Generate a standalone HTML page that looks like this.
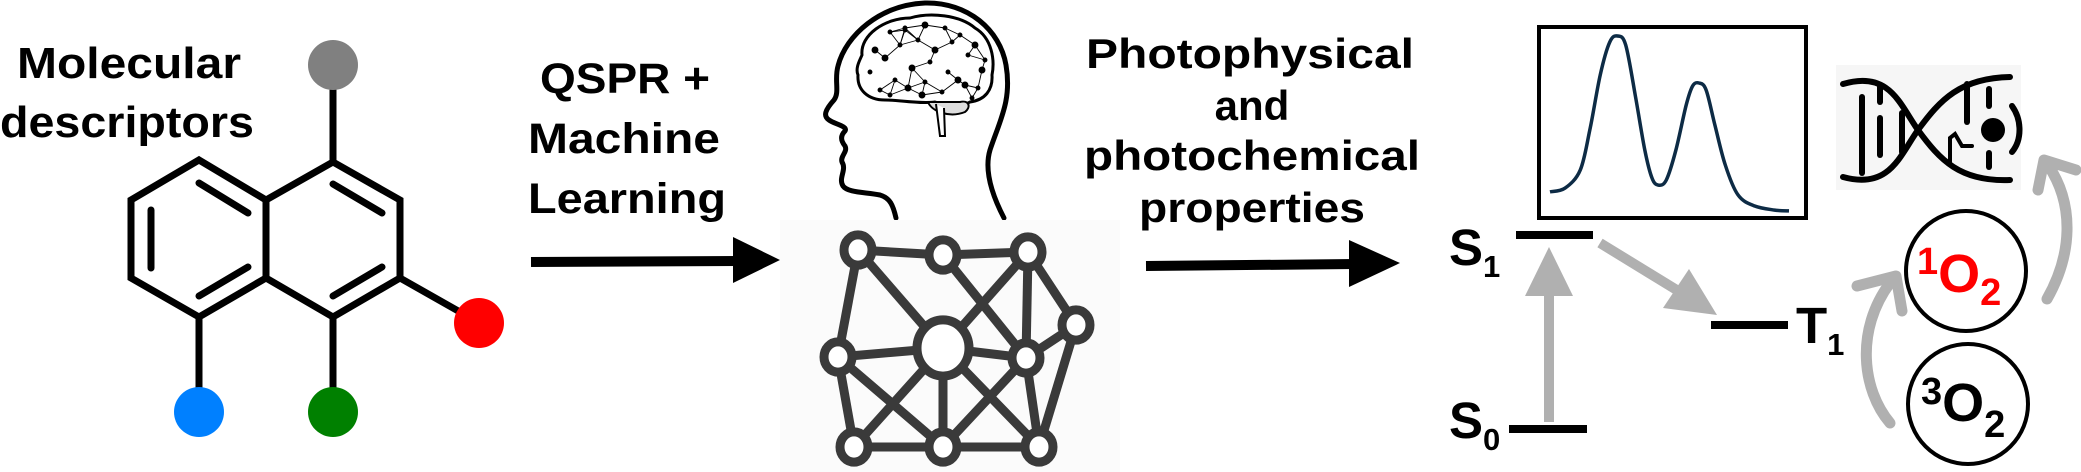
<!DOCTYPE html>
<html><head><meta charset="utf-8"><title>QSPR workflow</title>
<style>
html,body{margin:0;padding:0;background:#fff;}
svg{display:block;}
text{font-family:"Liberation Sans",sans-serif;font-weight:bold;}
</style></head>
<body>
<svg id="fig" width="2081" height="472" viewBox="0 0 2081 472" xmlns="http://www.w3.org/2000/svg">
  <!-- Molecule -->
  <g stroke="#000" stroke-width="7" fill="none" stroke-linecap="round" stroke-linejoin="miter">
    <text x="17" y="78" font-size="44" textLength="224" lengthAdjust="spacingAndGlyphs" fill="#000" stroke="none">Molecular</text>
    <text x="0" y="137" font-size="44" textLength="254" lengthAdjust="spacingAndGlyphs" fill="#000" stroke="none">descriptors</text>
    <polygon points="199,160 266,200 266,278 199,317 131,278 131,200"/>
    <polygon points="333,162 400,200 400,278 333,317 266,278 266,200"/>
    <line x1="199" y1="183" x2="248" y2="213"/>
    <line x1="151" y1="210" x2="151" y2="268"/>
    <line x1="199" y1="296" x2="248" y2="267"/>
    <line x1="333" y1="184" x2="382" y2="213"/>
    <line x1="333" y1="296" x2="382" y2="267"/>
    <line x1="333" y1="90" x2="333" y2="162"/>
    <line x1="400" y1="278" x2="460" y2="312"/>
    <line x1="199" y1="317" x2="199" y2="390"/>
    <line x1="333" y1="317" x2="333" y2="390"/>
    <ellipse cx="333" cy="65" rx="25" ry="25" fill="#808080" stroke="none"/>
    <ellipse cx="479" cy="323" rx="25" ry="25" fill="#ff0000" stroke="none"/>
    <ellipse cx="199" cy="412" rx="25" ry="25" fill="#0080ff" stroke="none"/>
    <ellipse cx="333" cy="412" rx="25" ry="25" fill="#008000" stroke="none"/>
  </g>

  <!-- QSPR text + arrow -->
  <g fill="#000">
    <text x="540" y="93" font-size="43" textLength="170" lengthAdjust="spacingAndGlyphs">QSPR +</text>
    <text x="528" y="153" font-size="43" textLength="192" lengthAdjust="spacingAndGlyphs">Machine</text>
    <text x="528" y="213" font-size="43" textLength="198" lengthAdjust="spacingAndGlyphs">Learning</text>
    <line x1="531" y1="262" x2="738" y2="261" stroke="#000" stroke-width="10"/>
    <polygon points="733,237 780,260 733,283"/>
  </g>

  <!-- Head and brain -->
  <g>
    <path d="M896,218 C893,205 890,198 880,195 C866,192 848,193 843,186 C838,178 847,170 842,162 C840,156 848,152 845,146 C841,141 840,136 845,131 C848,126 834,124 829,120 C823,116 825,110 834,100 C840,92 834,80 838,66 C846,35 880,5 925,3 C968,2 1000,30 1006,65 C1012,100 1000,120 990,150 C984,170 992,195 1004,218" fill="none" stroke="#000" stroke-width="5" stroke-linecap="round"/>
    <path d="M862,55 C860,35 885,18 910,18 C930,12 960,15 975,28 C992,38 995,60 992,75 C993,90 985,100 970,102 C960,108 945,105 935,102 C920,104 900,100 885,100 C868,100 857,90 858,75 C855,68 860,60 862,55 Z" fill="#fff" stroke="#000" stroke-width="3"/>
    <path d="M928,102 C932,112 950,118 965,112 C972,106 968,100 960,102 Z" fill="#ddd" stroke="#000" stroke-width="2"/>
    <path d="M936,104 L940,136 L945,136 L944,108" fill="#fff" stroke="#000" stroke-width="2"/>
    <g id="brain-net" stroke="#000" stroke-width="0.9" fill="#000"></g>
  </g>

  <!-- Network -->
  <rect x="780" y="220" width="340" height="252" fill="#fbfbfb"/>
  <g id="network" stroke="#3a3a3a" stroke-width="9" fill="#fff"></g>

  <!-- Photophysical text + arrow -->
  <g fill="#000">
    <text x="1250" y="68" font-size="42" text-anchor="middle" textLength="328" lengthAdjust="spacingAndGlyphs">Photophysical</text>
    <text x="1252" y="120" font-size="42" text-anchor="middle">and</text>
    <text x="1252" y="170" font-size="42" text-anchor="middle" textLength="336" lengthAdjust="spacingAndGlyphs">photochemical</text>
    <text x="1252" y="222" font-size="42" text-anchor="middle" textLength="226" lengthAdjust="spacingAndGlyphs">properties</text>
    <line x1="1146" y1="266" x2="1355" y2="264" stroke="#000" stroke-width="10"/>
    <polygon points="1349,240 1400,263 1349,287"/>
  </g>

  <!-- Spectrum -->
  <rect x="1539" y="27" width="267" height="191" fill="#fff" stroke="#000" stroke-width="4"/>
  <path id="spectrum" d="" fill="none" stroke="#0d2b45" stroke-width="3.5"/>

  <!-- Jablonski -->
  <g>
    <rect x="1516" y="231" width="77" height="8" fill="#000"/>
    <rect x="1509" y="425" width="78" height="8" fill="#000"/>
    <rect x="1711" y="321" width="77" height="8" fill="#000"/>
    <text x="1449" y="265" font-size="51">S<tspan font-size="31" dy="12">1</tspan></text>
    <text x="1449" y="438" font-size="51">S<tspan font-size="31" dy="12">0</tspan></text>
    <text x="1796" y="343" font-size="51">T<tspan font-size="31" dy="12">1</tspan></text>
    <rect x="1544" y="292" width="10" height="130" fill="#b0b0b0"/>
    <polygon points="1525,296 1549,247 1573,296" fill="#b0b0b0"/>
    <line x1="1600" y1="243" x2="1680" y2="292" stroke="#b0b0b0" stroke-width="10"/>
    <polygon points="1663,308 1689,269 1717,315" fill="#b0b0b0"/>
  </g>

  <!-- Oxygen -->
  <g>
    <circle cx="1966" cy="271" r="60" fill="none" stroke="#000" stroke-width="4"/>
    <text x="1917" y="292" font-size="54" fill="#ff0000"><tspan font-size="38" dy="-18">1</tspan><tspan dy="18">O</tspan><tspan font-size="38" dy="13">2</tspan></text>
    <circle cx="1968" cy="404" r="60" fill="none" stroke="#000" stroke-width="4"/>
    <text x="1921" y="421" font-size="54" fill="#000"><tspan font-size="38" dy="-17">3</tspan><tspan dy="17">O</tspan><tspan font-size="38" dy="16">2</tspan></text>
    <path d="M1890,423 C1862,390 1855,330 1890,283" fill="none" stroke="#b0b0b0" stroke-width="11" stroke-linecap="round"/>
    <polyline points="1857,286 1896,276 1902,311" fill="none" stroke="#b0b0b0" stroke-width="11" stroke-linecap="round" stroke-linejoin="round"/>
    <path d="M2047,299 C2072,255 2075,205 2048,165" fill="none" stroke="#b0b0b0" stroke-width="11" stroke-linecap="round"/>
    <polyline points="2038,190 2044,160 2076,170" fill="none" stroke="#b0b0b0" stroke-width="11" stroke-linecap="round" stroke-linejoin="round"/>
  </g>

  <!-- DNA -->
  <g stroke="#000" stroke-width="6" fill="none" stroke-linecap="round">
    <rect x="1836" y="65" width="185" height="125" fill="#f6f6f6" stroke="none"/>
    <path d="M1843,84 C1890,70 1900,105 1918,130 C1940,160 1960,182 2010,180"/>
    <path d="M1843,177 C1890,190 1900,155 1918,130 C1940,100 1960,78 2010,77"/>
    <line x1="1862" y1="97" x2="1862" y2="173"/>
    <line x1="1880" y1="86" x2="1880" y2="102"/>
    <line x1="1880" y1="118" x2="1880" y2="155"/>
    <line x1="1902" y1="113" x2="1902" y2="152"/>
    <line x1="1967" y1="84" x2="1967" y2="122"/>
    <line x1="1989" y1="89" x2="1989" y2="106"/>
    <line x1="1989" y1="153" x2="1989" y2="167"/>
    <path d="M2012,106 C2022,120 2022,140 2012,152"/>
    <path d="M1950,163 L1950,138 L1955,134 L1962,146 L1972,146" stroke-width="4"/>
    <circle cx="1993" cy="130" r="12" fill="#000" stroke="none"/>
  </g>
</svg>

<script>
// Spectrum data
const wavelengths = [400,419,438,450,463,475,485,495,507,519,528,536,546,558,571,579,587,596,607,620,636,657,682,700];
const intensities = [0.114,0.136,0.239,0.466,0.778,0.966,1.0,0.949,0.665,0.352,0.193,0.153,0.182,0.352,0.608,0.716,0.733,0.693,0.494,0.267,0.097,0.034,0.011,0.006];

const xScale = w => 1550 + (w - 400) / 300 * 239;
const yScale = v => 212 - v * 176;

(function drawSpectrum(){
  const pts = wavelengths.map((w,i)=>[xScale(w), yScale(intensities[i])]);
  let d = 'M' + pts[0][0].toFixed(1) + ',' + pts[0][1].toFixed(1);
  for (let i=0;i<pts.length-1;i++){
    const p0 = pts[i-1]||pts[i], p1=pts[i], p2=pts[i+1], p3=pts[i+2]||p2;
    const c1=[p1[0]+(p2[0]-p0[0])/6, p1[1]+(p2[1]-p0[1])/6];
    const c2=[p2[0]-(p3[0]-p1[0])/6, p2[1]-(p3[1]-p1[1])/6];
    d += ' C'+c1[0].toFixed(1)+','+c1[1].toFixed(1)+' '+c2[0].toFixed(1)+','+c2[1].toFixed(1)+' '+p2[0].toFixed(1)+','+p2[1].toFixed(1);
  }
  document.getElementById('spectrum').setAttribute('d', d);
})();

// Neural network icon
const nodeX = [858,943,1028,1076,838,943,1026,854,943,1039];
const nodeY = [250,255,252,325,357,348,358,447,447,447];
const nodeR = [14,14,14,14,14,26,14,14,14,14];
const edgeFrom = [0,1,0,0,1,2,2,2,3,3,4,5,4,4,5,5,5,6,6,7,8];
const edgeTo   = [1,2,4,5,6,5,6,3,6,9,5,6,7,8,7,8,9,9,8,8,9];

(function drawNetwork(){
  const g = document.getElementById('network');
  const NS = 'http://www.w3.org/2000/svg';
  edgeFrom.forEach((a,i)=>{
    const b = edgeTo[i];
    const l = document.createElementNS(NS,'line');
    l.setAttribute('x1',nodeX[a]); l.setAttribute('y1',nodeY[a]);
    l.setAttribute('x2',nodeX[b]); l.setAttribute('y2',nodeY[b]);
    
    
    g.appendChild(l);
  });
  nodeX.forEach((x,i)=>{
    const c = document.createElementNS(NS,'ellipse');
    c.setAttribute('cx',x); c.setAttribute('cy',nodeY[i]);
    c.setAttribute('rx',nodeR[i]); c.setAttribute('ry',nodeR[i]*1.08);
    
    
    g.appendChild(c);
  });
})();

// Brain network dots (decorative)
const brainX = [875,890,905,925,945,960,975,985,870,885,900,918,935,952,968,982,880,895,912,930,948,965,978,890,908,925,942,958,972,905,922];
const brainY = [50,32,28,25,28,35,45,60,72,58,45,40,50,42,55,70,90,80,68,62,72,85,88,95,88,82,92,80,98,30,95];
(function drawBrain(){
  const g = document.getElementById('brain-net');
  const NS = 'http://www.w3.org/2000/svg';
  for (let i=0;i<brainX.length;i++){
    for (let j=i+1;j<brainX.length;j++){
      const dx=brainX[i]-brainX[j], dy=brainY[i]-brainY[j];
      if (dx*dx+dy*dy < 420){
        const l=document.createElementNS(NS,'line');
        l.setAttribute('x1',brainX[i]); l.setAttribute('y1',brainY[i]);
        l.setAttribute('x2',brainX[j]); l.setAttribute('y2',brainY[j]);
        
        
        g.appendChild(l);
      }
    }
  }
  brainX.forEach((x,i)=>{
    const c=document.createElementNS(NS,'circle');
    c.setAttribute('cx',x); c.setAttribute('cy',brainY[i]); c.setAttribute('r', i%3===0?3:2);
    
    
    g.appendChild(c);
  });
})();
</script>
</body></html>
